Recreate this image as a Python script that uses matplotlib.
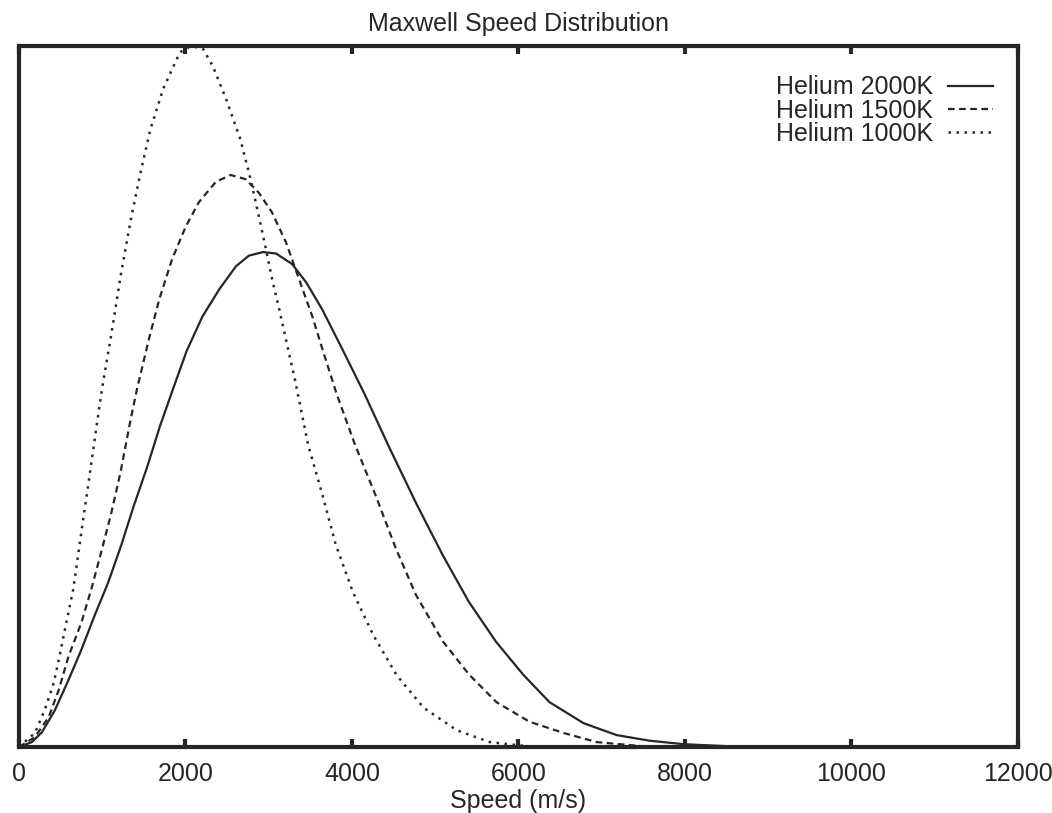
import numpy as np
import matplotlib
matplotlib.use('Agg')
import matplotlib.pyplot as plt

plt.rcParams['font.family'] = ['Liberation Sans', 'DejaVu Sans']

# Speeds (m/s) and relative heights
v_2000 = [0, 155, 275, 429, 596, 750, 903, 1069, 1223, 1376, 1541, 1694, 1848,
          2014, 2203, 2406, 2608, 2763, 2930, 3087, 3280, 3449, 3643, 3886, 4153,
          4433, 4761, 5088, 5404, 5731, 6058, 6372, 6781, 7178, 7575, 7983, 8535,
          9000]
f_2000 = [0, 0.007, 0.021, 0.052, 0.096, 0.139, 0.186, 0.234, 0.286, 0.343, 0.400,
          0.458, 0.510, 0.565, 0.614, 0.653, 0.686, 0.701, 0.706, 0.704, 0.689,
          0.663, 0.624, 0.567, 0.503, 0.431, 0.350, 0.274, 0.207, 0.150, 0.103,
          0.064, 0.034, 0.017, 0.009, 0.004, 0.001, 0]

v_1500 = [0, 191, 358, 476, 594, 748, 866, 983, 1101, 1218, 1334, 1416, 1569, 1686,
          1839, 2005, 2160, 2362, 2542, 2722, 2879, 3037, 3207, 3365, 3524, 3646,
          3817, 4037, 4280, 4524, 4768, 5095, 5409, 5735, 6133, 6542, 6939, 7503]
f_1500 = [0, 0.014, 0.043, 0.081, 0.129, 0.177, 0.224, 0.276, 0.330, 0.391, 0.463,
          0.510, 0.586, 0.639, 0.696, 0.743, 0.777, 0.806, 0.816, 0.810, 0.791,
          0.763, 0.720, 0.667, 0.614, 0.567, 0.503, 0.431, 0.360, 0.284, 0.217,
          0.150, 0.103, 0.064, 0.036, 0.020, 0.007, 0.001]

v_1000 = [0, 191, 310, 416, 486, 568, 650, 707, 765, 823, 880, 938, 996, 1112, 1228,
          1344, 1461, 1578, 1732, 1933, 2065, 2209, 2330, 2489, 2659, 2782, 2881,
          2967, 3041, 3127, 3214, 3313, 3473, 3644, 3804, 4011, 4254, 4533, 4860,
          5257, 5654, 6194]
f_1000 = [0, 0.020, 0.053, 0.091, 0.129, 0.177, 0.224, 0.271, 0.320, 0.367, 0.414,
          0.463, 0.510, 0.591, 0.677, 0.753, 0.820, 0.881, 0.939, 0.991, 1.0,
          0.996, 0.971, 0.924, 0.867, 0.810, 0.757, 0.710, 0.667, 0.624, 0.577,
          0.525, 0.431, 0.360, 0.289, 0.221, 0.160, 0.103, 0.056, 0.024, 0.007, 0]

labels = ['Helium 2000K', 'Helium 1500K', 'Helium 1000K']
xticks = [0, 2000, 4000, 6000, 8000, 10000, 12000]

ink = '#262626'
fs = 18

fig = plt.figure(figsize=(10.52, 8.13), dpi=100)
ax = fig.add_axes([19/1052, 1 - 747/813, 999/1052, 701/813])

ax.plot(v_2000, f_2000, color=ink, lw=1.6, label=labels[0])
ax.plot(v_1500, f_1500, color=ink, lw=1.6, linestyle=(0, (3, 2)),
        dash_capstyle='butt', label=labels[1])
ax.plot(v_1000, f_1000, color=ink, lw=1.8, linestyle=(0, (1, 2.2)),
        dash_capstyle='butt', label=labels[2])

ax.set_xlim(0, 12000)
ax.set_ylim(0, 1)
ax.set_xticks(xticks)
ax.set_xticklabels([str(t) for t in xticks], fontsize=fs, color=ink)
ax.set_yticks([])
ax.tick_params(axis='x', direction='in', length=6, width=3, top=True,
               pad=11, color=ink)
for s in ax.spines.values():
    s.set_linewidth(3)
    s.set_color(ink)

ax.set_title('Maxwell Speed Distribution', fontsize=fs, color=ink, pad=11)
ax.set_xlabel('Speed (m/s)', fontsize=fs, color=ink, labelpad=2)

ax.legend(loc='upper right', bbox_to_anchor=(0.975, 0.958), frameon=False,
          markerfirst=False, fontsize=fs, handlelength=1.8, handletextpad=0.6,
          labelspacing=-0.03, borderpad=0, borderaxespad=0, labelcolor=ink)

plt.savefig('out.png', dpi=100)
